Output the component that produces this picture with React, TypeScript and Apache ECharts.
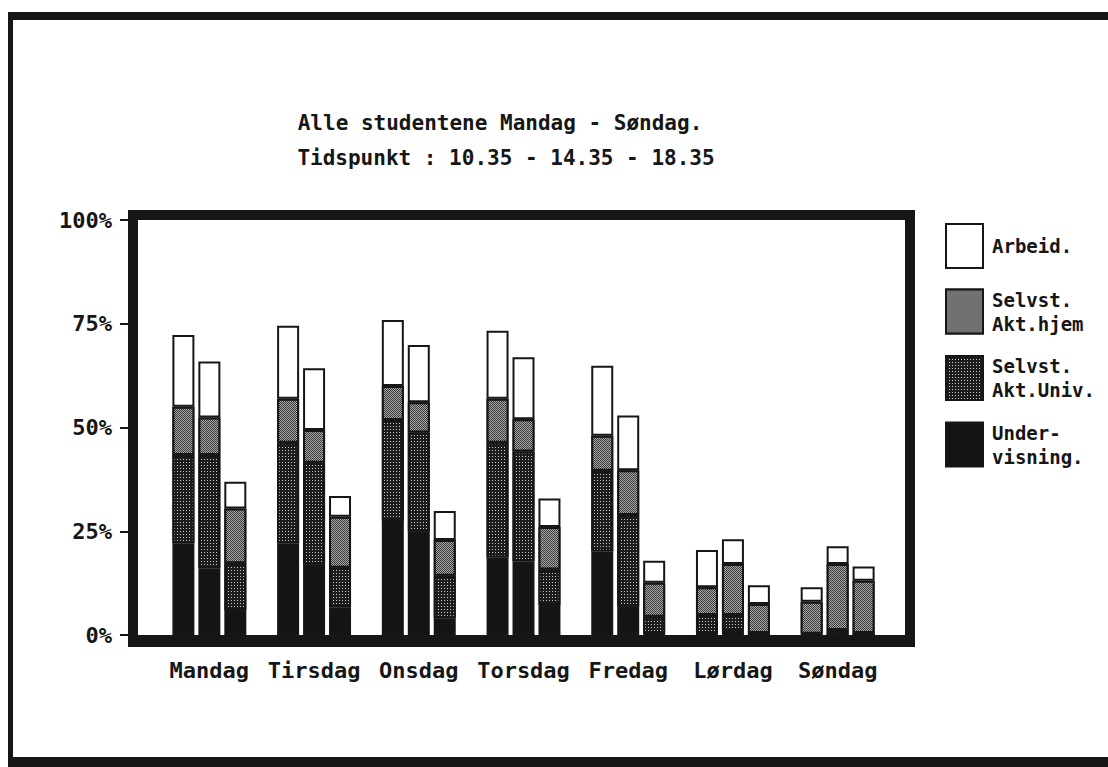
import React, { useEffect, useRef } from "react";
import * as echarts from "echarts";

const categories = ["Mandag", "Tirsdag", "Onsdag", "Torsdag", "Fredag", "Lørdag", "Søndag"];
const timeSlots = ["10.35", "14.35", "18.35"];
const yTicks = [0, 25, 50, 75, 100];

// Undervisning (black)
const undervisning1035 = [22.1, 22.1, 27.5, 18.7, 20.1, 0.5, 0];
const undervisning1435 = [16.1, 16.9, 24.9, 17.8, 6.8, 1.2, 0];
const undervisning1835 = [6.0, 6.7, 4.0, 7.2, 0.5, 0, 0];

// Selvst. Akt.Univ. (dark dotted)
const univ1035 = [21.3, 24.2, 24.3, 27.6, 19.5, 4.3, 0.3];
const univ1435 = [27.3, 24.6, 23.9, 26.4, 22.1, 3.6, 1.2];
const univ1835 = [11.3, 9.5, 10.3, 8.6, 3.9, 0.5, 0.5];

// Selvst. Akt.hjem (grey texture)
const hjem1035 = [11.6, 10.6, 8.2, 10.6, 8.4, 6.7, 7.7];
const hjem1435 = [9.0, 7.9, 7.3, 7.8, 10.8, 12.3, 15.9];
const hjem1835 = [13.2, 12.3, 8.6, 10.2, 8.2, 7.0, 12.6];

// Arbeid (white)
const arbeid1035 = [17.3, 17.6, 15.9, 16.4, 16.9, 9.0, 3.5];
const arbeid1435 = [13.5, 14.9, 13.8, 14.9, 13.2, 6.0, 4.3];
const arbeid1835 = [6.4, 5.0, 7.0, 6.9, 5.3, 4.5, 3.4];

const legendNames = ["Arbeid.", "Selvst. Akt.hjem", "Selvst. Akt.Univ.", "Undervisning."];
const legendLabels: Record<string, string> = {
  "Arbeid.": "Arbeid.",
  "Selvst. Akt.hjem": "Selvst.\nAkt.hjem",
  "Selvst. Akt.Univ.": "Selvst.\nAkt.Univ.",
  "Undervisning.": "Under-\nvisning.",
};

const FONT = "'DejaVu Sans Mono', monospace";
const INK = "#161616";

const styles: Record<string, any> = {
  "Undervisning.": { color: "#141414", borderColor: INK, borderWidth: 2 },
  "Selvst. Akt.Univ.": {
    color: "#1c1c1c",
    borderColor: INK,
    borderWidth: 2,
    decal: {
      symbol: "rect",
      symbolSize: 1,
      color: "rgba(235,235,235,0.85)",
      dashArrayX: [1, 2],
      dashArrayY: [1, 2],
      rotation: 0,
    },
  },
  "Selvst. Akt.hjem": {
    color: "#3a3a3a",
    borderColor: INK,
    borderWidth: 2,
    decal: {
      symbol: "rect",
      symbolSize: 1,
      color: "#a8a8a8",
      dashArrayX: [[1, 1], [0, 1, 1, 0]],
      dashArrayY: [1, 0],
      rotation: 0,
    },
  },
  "Arbeid.": { color: "#ffffff", borderColor: INK, borderWidth: 2 },
};

const slotData = [
  { u: undervisning1035, v: univ1035, h: hjem1035, a: arbeid1035 },
  { u: undervisning1435, v: univ1435, h: hjem1435, a: arbeid1435 },
  { u: undervisning1835, v: univ1835, h: hjem1835, a: arbeid1835 },
];

export default function App() {
  const ref = useRef<HTMLDivElement>(null);

  useEffect(() => {
    if (!ref.current) return;
    const chart = echarts.init(ref.current, null, { renderer: "svg" });

    const series: any[] = [];
    slotData.forEach((s, i) => {
      const stack = "t" + timeSlots[i];
      const parts: [string, number[]][] = [
        ["Undervisning.", s.u],
        ["Selvst. Akt.Univ.", s.v],
        ["Selvst. Akt.hjem", s.h],
        ["Arbeid.", s.a],
      ];
      parts.forEach(([name, data]) => {
        series.push({
          type: "bar",
          name,
          stack,
          data,
          barWidth: 22,
          barGap: "18%",
          itemStyle: styles[name],
          emphasis: { disabled: true },
        });
      });
    });

    const frame = (x: number, y: number, w: number, h: number) => ({
      type: "rect",
      shape: { x, y, width: w, height: h },
      style: { fill: INK },
      z: 100,
      silent: true,
    });

    const titleStyle = (text: string) => ({
      text,
      textAlign: "center",
      textVerticalAlign: "middle",
      align: "center",
      verticalAlign: "middle",
      fontFamily: FONT,
      fontWeight: "bold",
      fontSize: 21,
      fill: INK,
    });

    const option: any = {
      animation: false,
      backgroundColor: "#ffffff",
      grid: { left: 157, top: 220, width: 733, height: 415, containLabel: false },
      xAxis: {
        type: "category",
        data: categories,
        axisLine: { show: false },
        axisTick: { show: false },
        axisLabel: {
          interval: 0,
          margin: 24,
          fontFamily: FONT,
          fontWeight: "bold",
          fontSize: 22,
          color: INK,
        },
      },
      yAxis: {
        type: "value",
        min: yTicks[0],
        max: yTicks[yTicks.length - 1],
        interval: 25,
        offset: 29,
        axisLine: { show: false },
        axisTick: { show: true, length: 8, lineStyle: { color: INK, width: 2 } },
        splitLine: { show: false },
        axisLabel: {
          margin: 16,
          formatter: "{value}%",
          fontFamily: FONT,
          fontWeight: "bold",
          fontSize: 22,
          color: INK,
        },
      },
      legend: {
        data: legendNames,
        orient: "vertical",
        left: 940,
        top: 218,
        itemWidth: 37,
        itemHeight: 44,
        itemGap: 18.5,
        icon: "rect",
        selectedMode: false,
        formatter: (n: string) => legendLabels[n] || n,
        textStyle: {
          fontFamily: FONT,
          fontWeight: "bold",
          fontSize: 19,
          lineHeight: 24,
          color: INK,
          padding: [0, 0, 0, 4],
        },
      },
      series,
      graphic: [
        // page border
        frame(8, 12, 1100, 8),
        frame(8, 12, 5, 755),
        frame(8, 757, 1100, 10),
        // plot frame
        frame(128, 210, 787, 10),
        frame(128, 210, 10, 437),
        frame(905, 210, 10, 437),
        frame(128, 635, 787, 12),
        { type: "text", x: 500, y: 123, z: 100, style: titleStyle("Alle studentene Mandag - Søndag.") },
        { type: "text", x: 506, y: 158, z: 100, style: titleStyle("Tidspunkt : 10.35 - 14.35 - 18.35") },
      ],
    };

    chart.setOption(option);
    return () => chart.dispose();
  }, []);

  return (
    <div
      ref={ref}
      style={{ position: "absolute", left: 0, top: 0, width: 1108, height: 767, background: "#fff" }}
    />
  );
}
